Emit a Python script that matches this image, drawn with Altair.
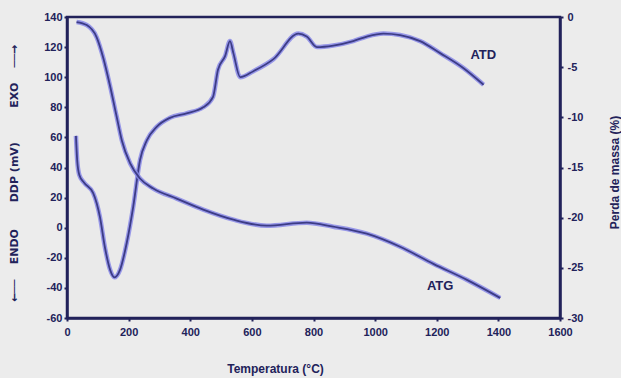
import altair as alt
import pandas as pd

# ATD curve (left axis, mV)
atd_t = [29, 33, 40, 55, 85, 107, 123, 140, 154, 172, 194, 215, 237, 259, 291, 334, 388, 442, 474, 490, 513, 529, 540, 562, 605, 670, 751, 778, 811, 864, 929, 973, 1027, 1081, 1146, 1211, 1287, 1352]
atd_v = [61, 45, 35, 30, 23, 7, -13, -28, -33, -28, -10, 14, 45, 58, 67, 73, 76, 80, 87, 105, 114, 124, 116, 100, 104, 112, 129, 127, 120, 121, 124, 127, 129, 128, 124, 116, 106, 95]

# ATG curve (right axis, % mass loss)
atg_t = [31, 64, 96, 118, 140, 161, 178, 205, 237, 280, 356, 442, 540, 648, 778, 864, 973, 1081, 1189, 1298, 1406]
atg_v = [-0.5, -0.8, -2.0, -4.1, -6.9, -9.9, -12.3, -14.6, -16.1, -17.1, -18.1, -19.2, -20.2, -20.8, -20.5, -20.9, -21.6, -22.9, -24.6, -26.2, -28.0]

# curve labels (positioned in left-axis units)
label_text = ["ATD", "ATG"]
label_t = [1351, 1211]
label_v = [115, -39]

x_ticks = [0, 200, 400, 600, 800, 1000, 1200, 1400, 1600]
left_ticks = [-60, -40, -20, 0, 20, 40, 60, 80, 100, 120, 140]
right_ticks = [-30, -25, -20, -15, -10, -5, 0]

INK = "#22225a"
HALO = "#8a8ae8"
CORE = "#3c3c86"
FONT = "Liberation Sans"
NB = "\u00a0"

atd = pd.DataFrame({"t": atd_t, "v": atd_v})
atg = pd.DataFrame({"t": atg_t, "v": atg_v})
labels = pd.DataFrame({"text": label_text, "t": label_t, "v": label_v})

common = dict(grid=False, labelOverlap=False, labelFlush=False, labelBound=False,
              labelExpr="datum.value + ''")

xscale = alt.Scale(domain=[0, 1600], nice=False, zero=False)
xaxis = alt.Axis(values=x_ticks, title="Temperatura (°C)",
                 titleX=208, titleY=50, titleBaseline="middle",
                 labelPadding=5, **common)

left_title = ("←──" + NB * 4 + "ENDO" + NB * 7 + "DDP" + NB + "(mV)" + NB * 9 + "EXO" + NB * 4 + "──→")
lscale = alt.Scale(domain=[-60, 140], nice=False, zero=False)
laxis = alt.Axis(values=left_ticks, orient="left", title=left_title,
                 titleAngle=270, titleX=-53, titleY=156, titleFont="DejaVu Sans",
                 titleFontSize=11,
                 titleAlign="center", titleBaseline="middle", labelPadding=2, **common)

rscale = alt.Scale(domain=[-30, 0], nice=False, zero=False)
raxis = alt.Axis(values=right_ticks, orient="right",
                 title="Perda de massa (%)", titleAngle=270,
                 titleX=54, titleY=155, titleAlign="center",
                 titleBaseline="middle", labelPadding=4, **common)

atd_base = alt.Chart(atd).encode(
    x=alt.X("t:Q", scale=xscale, axis=xaxis),
    y=alt.Y("v:Q", scale=lscale, axis=laxis),
)
atd_halo = atd_base.mark_line(color=HALO, strokeWidth=4.5, opacity=0.85, interpolate="monotone")
atd_line = atd_base.mark_line(color=CORE, strokeWidth=1.8, interpolate="monotone")

lab = alt.Chart(labels).mark_text(font=FONT, fontWeight="bold", fontSize=13, color=INK).encode(
    x=alt.X("t:Q", scale=xscale, axis=xaxis),
    y=alt.Y("v:Q", scale=lscale, axis=laxis),
    text="text:N",
)

atg_base = alt.Chart(atg).encode(
    x=alt.X("t:Q", scale=xscale, axis=xaxis),
    y=alt.Y("v:Q", scale=rscale, axis=raxis),
)
atg_halo = atg_base.mark_line(color=HALO, strokeWidth=4.5, opacity=0.85, interpolate="monotone")
atg_line = atg_base.mark_line(color=CORE, strokeWidth=1.8, interpolate="monotone")

chart = alt.layer(
    alt.layer(atd_halo, atd_line, lab),
    alt.layer(atg_halo, atg_line),
).resolve_scale(y="independent").properties(
    width=493, height=301,
    padding={"left": 67, "top": 17, "right": 61, "bottom": 60},
    autosize=alt.AutoSizeParams(type="none"),
    background="#ececec",
).configure_view(
    stroke=INK, strokeWidth=2.5, fill="#eaeaea",
).configure_axis(
    domainColor=INK, domainWidth=2.5, tickColor=INK, tickSize=3, tickWidth=2,
    labelFont=FONT, labelFontWeight="bold", labelFontSize=11, labelColor=INK,
    titleFont=FONT, titleFontWeight="bold", titleFontSize=12, titleColor=INK,
)

chart.save("out.html", embed_options={"renderer": "svg", "actions": False})
